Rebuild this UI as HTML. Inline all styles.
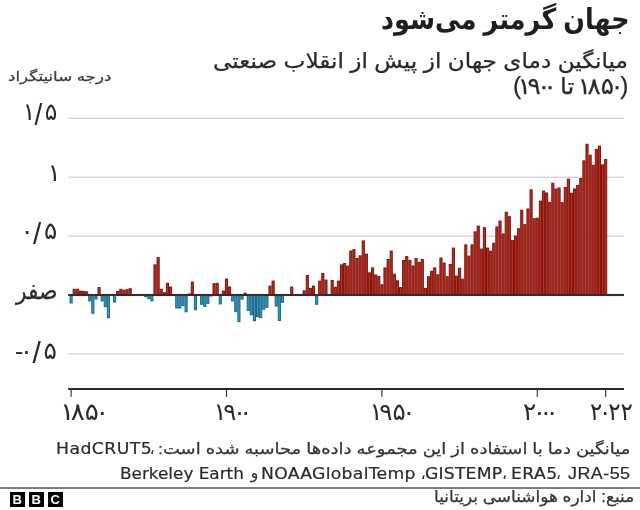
<!DOCTYPE html>
<html lang="fa">
<head>
<meta charset="utf-8">
<title>جهان گرمتر می‌شود</title>
<style>
html,body{margin:0;padding:0;background:#fff;}
body{width:640px;height:510px;position:relative;overflow:hidden;font-family:"Liberation Sans","DejaVu Sans",sans-serif;color:#222;}
.chart{position:absolute;left:0;top:0;}
.t{position:absolute;white-space:nowrap;line-height:1;transform-origin:0 0;}
.lat{font-family:"DejaVu Sans","Liberation Sans",sans-serif;}
.lat2{font-family:"Liberation Sans",sans-serif;}
.n{margin:0 -0.14em}.sl{font-size:1.2em;line-height:0;position:relative;top:0.145em;margin:0 0.09em}
.sep{position:absolute;left:0;top:487px;width:640px;height:1.8px;background:#7a7a7a;}
.bbc{position:absolute;top:492.1px;width:15.1px;height:14.9px;background:#000;color:#fff;font:bold 13px/15px "Liberation Sans",sans-serif;text-align:center;}
</style>
</head>
<body>
<svg class="chart" width="640" height="510" viewBox="0 0 640 510">
<g><rect x="68.2" y="117.75" width="555.8" height="1.15" fill="#cdcdcd"/><rect x="68.2" y="176.65" width="555.8" height="1.15" fill="#cdcdcd"/><rect x="68.2" y="235.55" width="555.8" height="1.15" fill="#cdcdcd"/><rect x="68.2" y="353.25" width="555.8" height="1.15" fill="#cdcdcd"/></g>
<g><rect x="70.05" y="295.00" width="2.11" height="7.90" fill="#3a9abe" stroke="#176785" stroke-width="1.0"/><rect x="73.15" y="289.30" width="2.11" height="5.70" fill="#b83024" stroke="#831209" stroke-width="1.0"/><rect x="76.26" y="289.30" width="2.11" height="5.70" fill="#b83024" stroke="#831209" stroke-width="1.0"/><rect x="79.37" y="291.10" width="2.11" height="3.90" fill="#b83024" stroke="#831209" stroke-width="1.0"/><rect x="82.48" y="291.50" width="2.11" height="3.50" fill="#b83024" stroke="#831209" stroke-width="1.0"/><rect x="85.59" y="291.80" width="2.11" height="3.20" fill="#b83024" stroke="#831209" stroke-width="1.0"/><rect x="88.69" y="295.00" width="2.11" height="5.90" fill="#3a9abe" stroke="#176785" stroke-width="1.0"/><rect x="91.80" y="295.00" width="2.11" height="18.30" fill="#3a9abe" stroke="#176785" stroke-width="1.0"/><rect x="94.91" y="295.00" width="2.11" height="4.00" fill="#3a9abe" stroke="#176785" stroke-width="1.0"/><rect x="98.02" y="287.50" width="2.11" height="7.50" fill="#b83024" stroke="#831209" stroke-width="1.0"/><rect x="101.13" y="295.00" width="2.11" height="5.90" fill="#3a9abe" stroke="#176785" stroke-width="1.0"/><rect x="104.23" y="295.00" width="2.11" height="11.60" fill="#3a9abe" stroke="#176785" stroke-width="1.0"/><rect x="107.34" y="295.00" width="2.11" height="22.70" fill="#3a9abe" stroke="#176785" stroke-width="1.0"/><rect x="113.56" y="295.00" width="2.11" height="7.10" fill="#3a9abe" stroke="#176785" stroke-width="1.0"/><rect x="116.67" y="291.50" width="2.11" height="3.50" fill="#b83024" stroke="#831209" stroke-width="1.0"/><rect x="119.77" y="289.30" width="2.11" height="5.70" fill="#b83024" stroke="#831209" stroke-width="1.0"/><rect x="122.88" y="290.30" width="2.11" height="4.70" fill="#b83024" stroke="#831209" stroke-width="1.0"/><rect x="125.99" y="289.70" width="2.11" height="5.30" fill="#b83024" stroke="#831209" stroke-width="1.0"/><rect x="129.10" y="288.70" width="2.11" height="6.30" fill="#b83024" stroke="#831209" stroke-width="1.0"/><rect x="132.21" y="294.50" width="2.11" height="0.50" fill="#b83024" stroke="#831209" stroke-width="1.0"/><rect x="135.31" y="295.00" width="2.11" height="0.30" fill="#3a9abe" stroke="#176785" stroke-width="1.0"/><rect x="141.53" y="295.00" width="2.11" height="0.30" fill="#3a9abe" stroke="#176785" stroke-width="1.0"/><rect x="144.64" y="295.00" width="2.11" height="1.70" fill="#3a9abe" stroke="#176785" stroke-width="1.0"/><rect x="147.75" y="295.00" width="2.11" height="3.60" fill="#3a9abe" stroke="#176785" stroke-width="1.0"/><rect x="150.85" y="295.00" width="2.11" height="5.80" fill="#3a9abe" stroke="#176785" stroke-width="1.0"/><rect x="153.96" y="264.90" width="2.11" height="30.10" fill="#b83024" stroke="#831209" stroke-width="1.0"/><rect x="157.07" y="257.60" width="2.11" height="37.40" fill="#b83024" stroke="#831209" stroke-width="1.0"/><rect x="160.18" y="289.20" width="2.11" height="5.80" fill="#b83024" stroke="#831209" stroke-width="1.0"/><rect x="163.29" y="292.70" width="2.11" height="2.30" fill="#b83024" stroke="#831209" stroke-width="1.0"/><rect x="166.39" y="283.30" width="2.11" height="11.70" fill="#b83024" stroke="#831209" stroke-width="1.0"/><rect x="169.50" y="287.10" width="2.11" height="7.90" fill="#b83024" stroke="#831209" stroke-width="1.0"/><rect x="175.72" y="295.00" width="2.11" height="13.00" fill="#3a9abe" stroke="#176785" stroke-width="1.0"/><rect x="178.83" y="295.00" width="2.11" height="13.00" fill="#3a9abe" stroke="#176785" stroke-width="1.0"/><rect x="181.93" y="295.00" width="2.11" height="10.50" fill="#3a9abe" stroke="#176785" stroke-width="1.0"/><rect x="185.04" y="295.00" width="2.11" height="16.80" fill="#3a9abe" stroke="#176785" stroke-width="1.0"/><rect x="188.15" y="294.00" width="2.11" height="1.00" fill="#b83024" stroke="#831209" stroke-width="1.0"/><rect x="191.26" y="282.10" width="2.11" height="12.90" fill="#b83024" stroke="#831209" stroke-width="1.0"/><rect x="194.37" y="295.00" width="2.11" height="14.70" fill="#3a9abe" stroke="#176785" stroke-width="1.0"/><rect x="200.58" y="295.00" width="2.11" height="9.30" fill="#3a9abe" stroke="#176785" stroke-width="1.0"/><rect x="203.69" y="295.00" width="2.11" height="11.40" fill="#3a9abe" stroke="#176785" stroke-width="1.0"/><rect x="206.80" y="295.00" width="2.11" height="8.40" fill="#3a9abe" stroke="#176785" stroke-width="1.0"/><rect x="209.91" y="295.00" width="2.11" height="1.00" fill="#3a9abe" stroke="#176785" stroke-width="1.0"/><rect x="213.01" y="283.70" width="2.11" height="11.30" fill="#b83024" stroke="#831209" stroke-width="1.0"/><rect x="216.12" y="283.30" width="2.11" height="11.70" fill="#b83024" stroke="#831209" stroke-width="1.0"/><rect x="219.23" y="295.00" width="2.11" height="8.90" fill="#3a9abe" stroke="#176785" stroke-width="1.0"/><rect x="222.34" y="291.10" width="2.11" height="3.90" fill="#b83024" stroke="#831209" stroke-width="1.0"/><rect x="225.45" y="279.10" width="2.11" height="15.90" fill="#b83024" stroke="#831209" stroke-width="1.0"/><rect x="228.55" y="287.00" width="2.11" height="8.00" fill="#b83024" stroke="#831209" stroke-width="1.0"/><rect x="231.66" y="295.00" width="2.11" height="6.00" fill="#3a9abe" stroke="#176785" stroke-width="1.0"/><rect x="234.77" y="295.00" width="2.11" height="16.70" fill="#3a9abe" stroke="#176785" stroke-width="1.0"/><rect x="237.88" y="295.00" width="2.11" height="26.70" fill="#3a9abe" stroke="#176785" stroke-width="1.0"/><rect x="240.99" y="295.00" width="2.11" height="4.10" fill="#3a9abe" stroke="#176785" stroke-width="1.0"/><rect x="244.09" y="293.20" width="2.11" height="1.80" fill="#b83024" stroke="#831209" stroke-width="1.0"/><rect x="247.20" y="295.00" width="2.11" height="15.50" fill="#3a9abe" stroke="#176785" stroke-width="1.0"/><rect x="250.31" y="295.00" width="2.11" height="19.80" fill="#3a9abe" stroke="#176785" stroke-width="1.0"/><rect x="253.42" y="295.00" width="2.11" height="25.70" fill="#3a9abe" stroke="#176785" stroke-width="1.0"/><rect x="256.53" y="295.00" width="2.11" height="21.70" fill="#3a9abe" stroke="#176785" stroke-width="1.0"/><rect x="259.63" y="295.00" width="2.11" height="22.60" fill="#3a9abe" stroke="#176785" stroke-width="1.0"/><rect x="262.74" y="295.00" width="2.11" height="14.20" fill="#3a9abe" stroke="#176785" stroke-width="1.0"/><rect x="265.85" y="295.00" width="2.11" height="12.30" fill="#3a9abe" stroke="#176785" stroke-width="1.0"/><rect x="268.96" y="286.10" width="2.11" height="8.90" fill="#b83024" stroke="#831209" stroke-width="1.0"/><rect x="272.07" y="281.10" width="2.11" height="13.90" fill="#b83024" stroke="#831209" stroke-width="1.0"/><rect x="275.17" y="295.00" width="2.11" height="11.00" fill="#3a9abe" stroke="#176785" stroke-width="1.0"/><rect x="278.28" y="295.00" width="2.11" height="25.50" fill="#3a9abe" stroke="#176785" stroke-width="1.0"/><rect x="281.39" y="295.00" width="2.11" height="7.30" fill="#3a9abe" stroke="#176785" stroke-width="1.0"/><rect x="287.61" y="295.00" width="2.11" height="0.30" fill="#3a9abe" stroke="#176785" stroke-width="1.0"/><rect x="290.71" y="287.00" width="2.11" height="8.00" fill="#b83024" stroke="#831209" stroke-width="1.0"/><rect x="303.15" y="290.90" width="2.11" height="4.10" fill="#b83024" stroke="#831209" stroke-width="1.0"/><rect x="306.25" y="275.50" width="2.11" height="19.50" fill="#b83024" stroke="#831209" stroke-width="1.0"/><rect x="309.36" y="288.30" width="2.11" height="6.70" fill="#b83024" stroke="#831209" stroke-width="1.0"/><rect x="312.47" y="286.10" width="2.11" height="8.90" fill="#b83024" stroke="#831209" stroke-width="1.0"/><rect x="315.58" y="295.00" width="2.11" height="9.20" fill="#3a9abe" stroke="#176785" stroke-width="1.0"/><rect x="318.69" y="281.10" width="2.11" height="13.90" fill="#b83024" stroke="#831209" stroke-width="1.0"/><rect x="321.79" y="273.50" width="2.11" height="21.50" fill="#b83024" stroke="#831209" stroke-width="1.0"/><rect x="324.90" y="280.10" width="2.11" height="14.90" fill="#b83024" stroke="#831209" stroke-width="1.0"/><rect x="328.01" y="295.00" width="2.11" height="0.30" fill="#3a9abe" stroke="#176785" stroke-width="1.0"/><rect x="331.12" y="280.50" width="2.11" height="14.50" fill="#b83024" stroke="#831209" stroke-width="1.0"/><rect x="334.23" y="287.30" width="2.11" height="7.70" fill="#b83024" stroke="#831209" stroke-width="1.0"/><rect x="337.33" y="281.10" width="2.11" height="13.90" fill="#b83024" stroke="#831209" stroke-width="1.0"/><rect x="340.44" y="264.90" width="2.11" height="30.10" fill="#b83024" stroke="#831209" stroke-width="1.0"/><rect x="343.55" y="263.50" width="2.11" height="31.50" fill="#b83024" stroke="#831209" stroke-width="1.0"/><rect x="346.66" y="266.10" width="2.11" height="28.90" fill="#b83024" stroke="#831209" stroke-width="1.0"/><rect x="349.77" y="251.00" width="2.11" height="44.00" fill="#b83024" stroke="#831209" stroke-width="1.0"/><rect x="352.87" y="249.70" width="2.11" height="45.30" fill="#b83024" stroke="#831209" stroke-width="1.0"/><rect x="355.98" y="258.50" width="2.11" height="36.50" fill="#b83024" stroke="#831209" stroke-width="1.0"/><rect x="359.09" y="255.80" width="2.11" height="39.20" fill="#b83024" stroke="#831209" stroke-width="1.0"/><rect x="362.20" y="240.90" width="2.11" height="54.10" fill="#b83024" stroke="#831209" stroke-width="1.0"/><rect x="365.31" y="254.10" width="2.11" height="40.90" fill="#b83024" stroke="#831209" stroke-width="1.0"/><rect x="368.41" y="272.90" width="2.11" height="22.10" fill="#b83024" stroke="#831209" stroke-width="1.0"/><rect x="371.52" y="267.90" width="2.11" height="27.10" fill="#b83024" stroke="#831209" stroke-width="1.0"/><rect x="374.63" y="275.00" width="2.11" height="20.00" fill="#b83024" stroke="#831209" stroke-width="1.0"/><rect x="377.74" y="276.50" width="2.11" height="18.50" fill="#b83024" stroke="#831209" stroke-width="1.0"/><rect x="380.85" y="284.80" width="2.11" height="10.20" fill="#b83024" stroke="#831209" stroke-width="1.0"/><rect x="383.95" y="267.90" width="2.11" height="27.10" fill="#b83024" stroke="#831209" stroke-width="1.0"/><rect x="387.06" y="259.50" width="2.11" height="35.50" fill="#b83024" stroke="#831209" stroke-width="1.0"/><rect x="390.17" y="251.10" width="2.11" height="43.90" fill="#b83024" stroke="#831209" stroke-width="1.0"/><rect x="393.28" y="274.20" width="2.11" height="20.80" fill="#b83024" stroke="#831209" stroke-width="1.0"/><rect x="396.39" y="280.80" width="2.11" height="14.20" fill="#b83024" stroke="#831209" stroke-width="1.0"/><rect x="399.49" y="287.60" width="2.11" height="7.40" fill="#b83024" stroke="#831209" stroke-width="1.0"/><rect x="402.60" y="260.50" width="2.11" height="34.50" fill="#b83024" stroke="#831209" stroke-width="1.0"/><rect x="405.71" y="256.60" width="2.11" height="38.40" fill="#b83024" stroke="#831209" stroke-width="1.0"/><rect x="408.82" y="260.40" width="2.11" height="34.60" fill="#b83024" stroke="#831209" stroke-width="1.0"/><rect x="411.93" y="266.00" width="2.11" height="29.00" fill="#b83024" stroke="#831209" stroke-width="1.0"/><rect x="415.03" y="258.50" width="2.11" height="36.50" fill="#b83024" stroke="#831209" stroke-width="1.0"/><rect x="418.14" y="262.30" width="2.11" height="32.70" fill="#b83024" stroke="#831209" stroke-width="1.0"/><rect x="421.25" y="259.50" width="2.11" height="35.50" fill="#b83024" stroke="#831209" stroke-width="1.0"/><rect x="424.36" y="288.30" width="2.11" height="6.70" fill="#b83024" stroke="#831209" stroke-width="1.0"/><rect x="427.47" y="276.70" width="2.11" height="18.30" fill="#b83024" stroke="#831209" stroke-width="1.0"/><rect x="430.57" y="271.30" width="2.11" height="23.70" fill="#b83024" stroke="#831209" stroke-width="1.0"/><rect x="433.68" y="267.90" width="2.11" height="27.10" fill="#b83024" stroke="#831209" stroke-width="1.0"/><rect x="436.79" y="274.80" width="2.11" height="20.20" fill="#b83024" stroke="#831209" stroke-width="1.0"/><rect x="439.90" y="258.00" width="2.11" height="37.00" fill="#b83024" stroke="#831209" stroke-width="1.0"/><rect x="443.01" y="263.00" width="2.11" height="32.00" fill="#b83024" stroke="#831209" stroke-width="1.0"/><rect x="446.11" y="276.70" width="2.11" height="18.30" fill="#b83024" stroke="#831209" stroke-width="1.0"/><rect x="449.22" y="264.50" width="2.11" height="30.50" fill="#b83024" stroke="#831209" stroke-width="1.0"/><rect x="452.33" y="248.10" width="2.11" height="46.90" fill="#b83024" stroke="#831209" stroke-width="1.0"/><rect x="455.44" y="276.10" width="2.11" height="18.90" fill="#b83024" stroke="#831209" stroke-width="1.0"/><rect x="458.55" y="268.30" width="2.11" height="26.70" fill="#b83024" stroke="#831209" stroke-width="1.0"/><rect x="461.65" y="279.20" width="2.11" height="15.80" fill="#b83024" stroke="#831209" stroke-width="1.0"/><rect x="464.76" y="244.90" width="2.11" height="50.10" fill="#b83024" stroke="#831209" stroke-width="1.0"/><rect x="467.87" y="256.10" width="2.11" height="38.90" fill="#b83024" stroke="#831209" stroke-width="1.0"/><rect x="470.98" y="244.90" width="2.11" height="50.10" fill="#b83024" stroke="#831209" stroke-width="1.0"/><rect x="474.09" y="231.90" width="2.11" height="63.10" fill="#b83024" stroke="#831209" stroke-width="1.0"/><rect x="477.19" y="226.10" width="2.11" height="68.90" fill="#b83024" stroke="#831209" stroke-width="1.0"/><rect x="480.30" y="249.10" width="2.11" height="45.90" fill="#b83024" stroke="#831209" stroke-width="1.0"/><rect x="483.41" y="227.70" width="2.11" height="67.30" fill="#b83024" stroke="#831209" stroke-width="1.0"/><rect x="486.52" y="248.10" width="2.11" height="46.90" fill="#b83024" stroke="#831209" stroke-width="1.0"/><rect x="489.63" y="251.20" width="2.11" height="43.80" fill="#b83024" stroke="#831209" stroke-width="1.0"/><rect x="492.73" y="243.20" width="2.11" height="51.80" fill="#b83024" stroke="#831209" stroke-width="1.0"/><rect x="495.84" y="226.90" width="2.11" height="68.10" fill="#b83024" stroke="#831209" stroke-width="1.0"/><rect x="498.95" y="221.10" width="2.11" height="73.90" fill="#b83024" stroke="#831209" stroke-width="1.0"/><rect x="502.06" y="234.00" width="2.11" height="61.00" fill="#b83024" stroke="#831209" stroke-width="1.0"/><rect x="505.17" y="212.30" width="2.11" height="82.70" fill="#b83024" stroke="#831209" stroke-width="1.0"/><rect x="508.27" y="216.80" width="2.11" height="78.20" fill="#b83024" stroke="#831209" stroke-width="1.0"/><rect x="511.38" y="240.70" width="2.11" height="54.30" fill="#b83024" stroke="#831209" stroke-width="1.0"/><rect x="514.49" y="236.10" width="2.11" height="58.90" fill="#b83024" stroke="#831209" stroke-width="1.0"/><rect x="517.60" y="228.70" width="2.11" height="66.30" fill="#b83024" stroke="#831209" stroke-width="1.0"/><rect x="520.71" y="210.30" width="2.11" height="84.70" fill="#b83024" stroke="#831209" stroke-width="1.0"/><rect x="523.81" y="224.70" width="2.11" height="70.30" fill="#b83024" stroke="#831209" stroke-width="1.0"/><rect x="526.92" y="209.00" width="2.11" height="86.00" fill="#b83024" stroke="#831209" stroke-width="1.0"/><rect x="530.03" y="189.80" width="2.11" height="105.20" fill="#b83024" stroke="#831209" stroke-width="1.0"/><rect x="533.14" y="218.70" width="2.11" height="76.30" fill="#b83024" stroke="#831209" stroke-width="1.0"/><rect x="536.25" y="218.20" width="2.11" height="76.80" fill="#b83024" stroke="#831209" stroke-width="1.0"/><rect x="539.35" y="201.10" width="2.11" height="93.90" fill="#b83024" stroke="#831209" stroke-width="1.0"/><rect x="542.46" y="191.10" width="2.11" height="103.90" fill="#b83024" stroke="#831209" stroke-width="1.0"/><rect x="545.57" y="193.00" width="2.11" height="102.00" fill="#b83024" stroke="#831209" stroke-width="1.0"/><rect x="548.68" y="202.40" width="2.11" height="92.60" fill="#b83024" stroke="#831209" stroke-width="1.0"/><rect x="551.79" y="183.20" width="2.11" height="111.80" fill="#b83024" stroke="#831209" stroke-width="1.0"/><rect x="554.89" y="189.00" width="2.11" height="106.00" fill="#b83024" stroke="#831209" stroke-width="1.0"/><rect x="558.00" y="188.00" width="2.11" height="107.00" fill="#b83024" stroke="#831209" stroke-width="1.0"/><rect x="561.11" y="202.70" width="2.11" height="92.30" fill="#b83024" stroke="#831209" stroke-width="1.0"/><rect x="564.22" y="187.50" width="2.11" height="107.50" fill="#b83024" stroke="#831209" stroke-width="1.0"/><rect x="567.33" y="179.10" width="2.11" height="115.90" fill="#b83024" stroke="#831209" stroke-width="1.0"/><rect x="570.43" y="193.20" width="2.11" height="101.80" fill="#b83024" stroke="#831209" stroke-width="1.0"/><rect x="573.54" y="189.00" width="2.11" height="106.00" fill="#b83024" stroke="#831209" stroke-width="1.0"/><rect x="576.65" y="185.40" width="2.11" height="109.60" fill="#b83024" stroke="#831209" stroke-width="1.0"/><rect x="579.76" y="178.50" width="2.11" height="116.50" fill="#b83024" stroke="#831209" stroke-width="1.0"/><rect x="582.87" y="160.90" width="2.11" height="134.10" fill="#b83024" stroke="#831209" stroke-width="1.0"/><rect x="585.97" y="144.30" width="2.11" height="150.70" fill="#b83024" stroke="#831209" stroke-width="1.0"/><rect x="589.08" y="155.20" width="2.11" height="139.80" fill="#b83024" stroke="#831209" stroke-width="1.0"/><rect x="592.19" y="165.30" width="2.11" height="129.70" fill="#b83024" stroke="#831209" stroke-width="1.0"/><rect x="595.30" y="149.40" width="2.11" height="145.60" fill="#b83024" stroke="#831209" stroke-width="1.0"/><rect x="598.41" y="146.10" width="2.11" height="148.90" fill="#b83024" stroke="#831209" stroke-width="1.0"/><rect x="601.51" y="164.90" width="2.11" height="130.10" fill="#b83024" stroke="#831209" stroke-width="1.0"/><rect x="604.62" y="159.60" width="2.11" height="135.40" fill="#b83024" stroke="#831209" stroke-width="1.0"/></g>
<rect x="68.2" y="293.95" width="555.8" height="2.1" fill="#2e2e2e"/>
<rect x="68.2" y="388.05" width="555.8" height="1.95" fill="#222"/>
<g><rect x="70.50" y="389" width="1.2" height="7.9" fill="#3a3a3a"/><rect x="225.90" y="389" width="1.2" height="7.9" fill="#3a3a3a"/><rect x="381.30" y="389" width="1.2" height="7.9" fill="#3a3a3a"/><rect x="536.70" y="389" width="1.2" height="7.9" fill="#3a3a3a"/><rect x="605.08" y="389" width="1.2" height="7.9" fill="#3a3a3a"/></g>
</svg>
<div class="t" id="e_title" style="left:381.46px;top:5px;font-size:29.0px;color:#1f1f1f;direction:rtl;font-weight:bold;transform:scaleX(0.8774);">جهان گرمتر می‌شود</div>
<div class="t" id="e_sub1" style="left:212.62px;top:50px;font-size:21.0px;color:#2a2a2a;direction:rtl;transform:scaleX(1.1033);-webkit-text-stroke:0.25px;">میانگین دمای جهان از پیش از انقلاب صنعتی</div>
<div class="t" id="e_sub2" style="left:513.4px;top:75px;font-size:23.0px;color:#2a2a2a;direction:rtl;transform:scaleX(1.066);-webkit-text-stroke:0.25px;">(<span class="n">۱</span>۸۵<span class="n">۰</span> تا <span class="n">۱</span>۹<span class="n">۰</span><span class="n">۰</span>)</div>
<div class="t" id="e_ylab" style="left:7.5px;top:70px;font-size:13.8px;color:#3a3a3a;direction:rtl;transform:scaleX(1.2059);-webkit-text-stroke:0.25px;">درجه سانیتگراد</div>
<div class="t" id="e_y15" style="left:25.7px;top:100.43px;font-size:24.2px;color:#2a2a2a;direction:ltr;transform:scaleX(0.9632);"><span class="n">۱</span><span class="sl">/</span>۵</div>
<div class="t" id="e_y1" style="left:51.0px;top:160.75px;font-size:24.2px;color:#2a2a2a;direction:ltr;"><span class="n">۱</span></div>
<div class="t" id="e_y05" style="left:23.91px;top:219.32px;font-size:24.2px;color:#2a2a2a;direction:ltr;transform:scaleX(1.0203);"><span class="n">۰</span><span class="sl">/</span>۵</div>
<div class="t" id="e_y0" style="left:15.88px;top:277.9px;font-size:24.86px;color:#2a2a2a;direction:rtl;transform:scaleX(0.8774);-webkit-text-stroke:0.25px;">صفر</div>
<div class="t" id="e_ym05" style="left:15.07px;top:339.28px;font-size:24.2px;color:#2a2a2a;direction:ltr;transform:scaleX(1.0312);">-<span class="n">۰</span><span class="sl">/</span>۵</div>
<div class="t" id="e_x1850" style="left:63.6px;top:399.75px;font-size:24.2px;color:#2a2a2a;direction:ltr;transform:scaleX(1.0803);"><span class="n">۱</span>۸۵<span class="n">۰</span></div>
<div class="t" id="e_x1900" style="left:216.9px;top:399.75px;font-size:24.2px;color:#2a2a2a;direction:ltr;transform:scaleX(1.0033);"><span class="n">۱</span>۹<span class="n">۰</span><span class="n">۰</span></div>
<div class="t" id="e_x1950" style="left:373.0px;top:399.75px;font-size:24.2px;color:#2a2a2a;direction:ltr;transform:scaleX(1.0177);"><span class="n">۱</span>۹۵<span class="n">۰</span></div>
<div class="t" id="e_x2000" style="left:522.78px;top:399.75px;font-size:24.2px;color:#2a2a2a;direction:ltr;transform:scaleX(1.0172);">۲<span class="n">۰</span><span class="n">۰</span><span class="n">۰</span></div>
<div class="t" id="e_x2022" style="left:590.05px;top:399.75px;font-size:24.2px;color:#2a2a2a;direction:ltr;transform:scaleX(0.948);">۲<span class="n">۰</span>۲۲</div>
<div class="t" id="e_f1" style="left:158.26px;top:441px;font-size:15.5px;color:#333;direction:rtl;transform:scaleX(1.1581);-webkit-text-stroke:0.25px;">میانگین دما با استفاده از این مجموعه داده‌ها محاسبه شده است:</div>
<div class="t" id="e_src" style="left:433.99px;top:489px;font-size:15.8px;color:#333;direction:rtl;transform:scaleX(1.0715);-webkit-text-stroke:0.25px;">منبع: اداره هواشناسی بریتانیا</div>
<div class="t lat" id="e_l_had" style="left:56.41px;top:441.4px;font-size:16.3px;color:#2a2a2a;direction:ltr;transform:scaleX(1.0602);-webkit-text-stroke:0.2px;letter-spacing:0.395px;">HadCRUT5</div>
<div class="t lat" id="e_l_berk" style="left:120.45px;top:466.4px;font-size:16.3px;color:#2a2a2a;direction:ltr;transform:scaleX(1.0342);-webkit-text-stroke:0.2px;">Berkeley Earth</div>
<div class="t lat" id="e_l_noaa" style="left:261.41px;top:466.4px;font-size:16.3px;color:#2a2a2a;direction:ltr;transform:scaleX(1.0592);-webkit-text-stroke:0.2px;letter-spacing:0.261px;">NOAAGlobalTemp</div>
<div class="t lat" id="e_l_gis" style="left:425.14px;top:466.4px;font-size:16.3px;color:#2a2a2a;direction:ltr;transform:scaleX(1.0573);-webkit-text-stroke:0.2px;letter-spacing:0.178px;">GISTEMP</div>
<div class="t lat" id="e_l_era" style="left:510.91px;top:466.4px;font-size:16.3px;color:#2a2a2a;direction:ltr;transform:scaleX(1.0617);-webkit-text-stroke:0.2px;letter-spacing:0.355px;">ERA5</div>
<div class="t lat2" id="e_l_jra" style="left:567.92px;top:464.65px;font-size:16.3px;color:#2a2a2a;direction:ltr;transform:scaleX(1.1009);-webkit-text-stroke:0.2px;letter-spacing:0.409px;">JRA-55</div>
<div class="t" id="e_c_f1" style="left:149.5px;top:440.15px;font-size:16.5px;color:#333;direction:rtl;">،</div>
<div class="t" id="e_c_1" style="left:420.48px;top:465.15px;font-size:16.5px;color:#333;direction:rtl;">،</div>
<div class="t" id="e_c_2" style="left:501.72px;top:465.15px;font-size:16.5px;color:#333;direction:rtl;">،</div>
<div class="t" id="e_c_3" style="left:555.72px;top:465.15px;font-size:16.5px;color:#333;direction:rtl;">،</div>
<div class="t" id="e_waw" style="left:250.45px;top:464.38px;font-size:16.5px;color:#333;direction:rtl;">و</div>
<div class="sep"></div>
<div class="bbc" style="left:9.6px">B</div>
<div class="bbc" style="left:28.6px">B</div>
<div class="bbc" style="left:47.6px">C</div>
</body>
</html>
